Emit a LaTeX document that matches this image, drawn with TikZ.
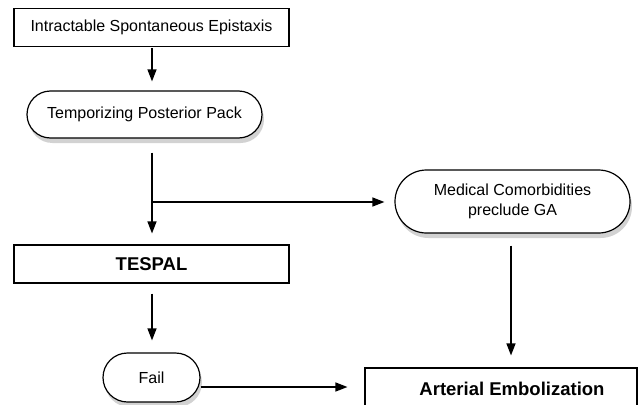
\documentclass[tikz,border=0pt]{standalone}
\usepackage{fontspec}
\setmainfont{Liberation Sans}
\usetikzlibrary{arrows.meta,shadows,shapes.misc}
\begin{document}
\begin{tikzpicture}[x=1pt,y=-1pt,
  lbl/.style={font=\fontsize{16}{19.5}\selectfont, align=center},
  blbl/.style={font=\fontsize{18.5}{21}\selectfont\bfseries},
  box/.style={draw, line width=1.1pt, inner sep=0pt, fill=white},
  pill/.style={draw, rounded rectangle, line width=1.2pt, inner sep=0pt, fill=white,
    drop shadow={shadow xshift=2pt, shadow yshift=-5pt, opacity=0.35}},
  arr/.style={-{Triangle[length=12pt,width=9pt]}, line width=1.3pt}]
\useasboundingbox (0,0) rectangle (644,404);
\fill[white] (0,0) rectangle (644,404);

\node[box, lbl, minimum width=275pt, minimum height=38pt] (a) at (151.5,27.5) {Intractable Spontaneous Epistaxis};
\node[pill, lbl, minimum width=235pt, minimum height=47pt] (b) at (144.5,114.5) {Temporizing Posterior Pack};
\node[pill, lbl, minimum width=235pt, minimum height=63pt] (d) at (512.5,201.5) {Medical Comorbidities\\preclude GA};
\node[box, blbl, minimum width=275pt, minimum height=38pt] (c) at (151.5,264) {TESPAL\hspace{23pt}};
\node[pill, lbl, minimum width=97pt, minimum height=49pt] (f) at (151.5,377.5) {Fail};
\node[box, blbl, minimum width=272pt, minimum height=42pt] (e) at (501,389) {\hspace{22pt}Arterial Embolization};

\coordinate (x) at (152,0);
\draw[arr, shorten <=1pt, shorten >=9pt] (x |- a.south) -- (x |- b.north);
\draw[arr, shorten <=14pt, shorten >=11pt] (x |- b.south) -- (x |- c.north);
\coordinate (br) at (152,202);
\draw[arr, shorten >=10pt] (br) -- (br -| d.west);
\draw[arr, shorten <=12pt, shorten >=12pt] (511,0 |- d.south) -- (511,0 |- e.north);
\draw[arr, shorten <=10pt, shorten >=12pt] (x |- c.south) -- (x |- f.north);
\coordinate (fo) at ([yshift=-9.5pt]f.east);
\draw[arr, shorten >=17pt] (fo) -- (fo -| e.west);
\end{tikzpicture}
\end{document}
